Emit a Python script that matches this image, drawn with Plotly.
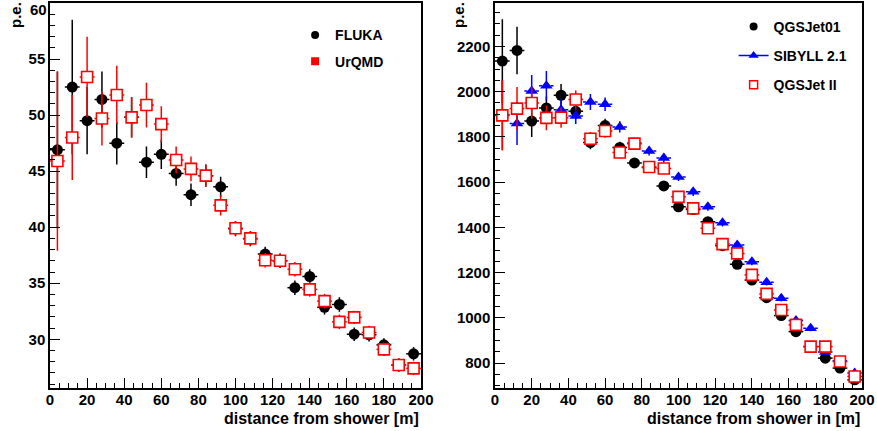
import plotly.graph_objects as go

# ---------------- data ----------------
x_bins = [4, 12, 20, 28, 36, 44, 52, 60, 68, 76, 84, 92, 100, 108, 116, 124,
          132, 140, 148, 156, 164, 172, 180, 188, 196]
x_halfwidth = [4] * 25

fluka = [46.9, 52.5, 49.5, 51.4, 47.5, 49.8, 45.8, 46.5, 44.8, 42.9, 44.6, 43.6, 39.85,
         38.96, 37.6, 37.0, 34.6, 35.6, 32.85, 33.1, 30.45, 30.4, 29.5, 27.7, 28.7]
fluka_err = [7.0, 6.0, 3.0, 2.5, 1.9, 1.8, 1.4, 1.3, 1.1, 1.0, 1.0, 0.9, 0.65,
             0.65, 0.65, 0.65, 0.65, 0.65, 0.65, 0.65, 0.6, 0.6, 0.6, 0.6, 0.6]

urqmd = [45.9, 48.0, 53.4, 49.7, 51.8, 49.8, 50.9, 49.2, 46.0, 45.2, 44.6, 41.95, 39.9,
         39.0, 37.05, 37.0, 36.25, 34.45, 33.4, 31.55, 31.95, 30.6, 29.1, 27.7, 27.4]
urqmd_err = [8.0, 3.8, 3.6, 2.4, 2.6, 1.8, 2.0, 1.6, 1.2, 1.1, 1.0, 0.9, 0.65,
             0.65, 0.65, 0.65, 0.65, 0.65, 0.65, 0.65, 0.6, 0.6, 0.6, 0.6, 0.6]

qgsjet01 = [2135, 2182, 1870, 1928, 1984, 1913, 1775, 1850, 1753, 1685, 1665, 1583, 1491,
            1479, 1425, 1319, 1237, 1167, 1089, 1010, 939, 873, 822, 778, 726]
qgsjet01_err = [185, 105, 70, 50, 50, 35, 30, 30, 25, 22, 20, 20, 18,
                18, 17, 16, 15, 15, 14, 14, 13, 13, 12, 12, 12]

sibyll = [1898, 1859, 2003, 2026, 1920, 1892, 1954, 1944, 1844, 1773, 1738, 1707, 1623,
          1557, 1491, 1420, 1322, 1248, 1157, 1087, 988, 954, 849, 810, 756]
sibyll_err = [155, 95, 70, 65, 50, 35, 35, 30, 25, 22, 20, 20, 18,
              18, 17, 16, 15, 15, 14, 14, 13, 13, 12, 12, 12]

qgsjet2 = [1895, 1925, 1950, 1884, 1885, 1965, 1792, 1826, 1731, 1770, 1667, 1660, 1535,
           1484, 1396, 1326, 1285, 1190, 1106, 1035, 969, 873, 873, 807, 741]
qgsjet2_err = [155, 95, 70, 55, 45, 40, 30, 30, 25, 22, 20, 20, 18,
               18, 17, 16, 15, 15, 14, 14, 13, 13, 12, 12, 12]

left_yrange = [25.65, 60.05]
right_yrange = [690, 2394]
x_range = [0, 200]
left_top_label = 60

# ---------------- figure ----------------
FONT = "Liberation Sans"
fig = go.Figure()


def series(x, y, ey, color, symbol, size, xa, ya, name, open_marker=False, xerr=True):
    marker = dict(color=color, symbol=symbol, size=size)
    if open_marker:
        marker = dict(color="white", symbol=symbol, size=size,
                      line=dict(color=color, width=1.6))
    tr = go.Scatter(
        x=x, y=y, mode="markers", name=name, showlegend=False,
        marker=marker, xaxis=xa, yaxis=ya, cliponaxis=False,
        error_y=dict(type="data", array=ey, color=color, thickness=1.5, width=0),
    )
    if xerr:
        tr.error_x = dict(type="data", array=x_halfwidth, color=color, thickness=1.5, width=0)
    return tr


fig.add_trace(series(x_bins, fluka, fluka_err, "black", "circle", 11, "x", "y", "FLUKA"))
fig.add_trace(series(x_bins, urqmd, urqmd_err, "red", "square", 11, "x", "y", "UrQMD", True))

fig.add_trace(series(x_bins, qgsjet01, qgsjet01_err, "black", "circle", 11, "x2", "y2", "QGSJet01"))

# dashed horizontal bin-width bars for SIBYLL
sx, sy = [], []
for xc, hw, yv in zip(x_bins, x_halfwidth, sibyll):
    sx += [xc - hw, xc + hw, None]
    sy += [yv, yv, None]
fig.add_trace(go.Scatter(x=sx, y=sy, mode="lines", showlegend=False, hoverinfo="skip",
                         line=dict(color="blue", width=1.5, dash="3px,8.5px"),
                         xaxis="x2", yaxis="y2"))
fig.add_trace(series(x_bins, sibyll, sibyll_err, "blue", "triangle-up", 11, "x2", "y2",
                     "SIBYLL 2.1", xerr=False))
fig.add_trace(series(x_bins, qgsjet2, qgsjet2_err, "red", "square", 11, "x2", "y2", "QGSJet II", True))

# legend entries
fig.add_trace(go.Scatter(x=[None], y=[None], mode="markers", name="FLUKA",
                         marker=dict(color="black", symbol="circle", size=8),
                         legend="legend", legendgroup="a", xaxis="x", yaxis="y"))
fig.add_trace(go.Scatter(x=[None], y=[None], mode="markers", name="UrQMD",
                         marker=dict(color="red", symbol="square", size=8),
                         legend="legend", legendgroup="b", xaxis="x", yaxis="y"))
fig.add_trace(go.Scatter(x=[None], y=[None], mode="markers", name="QGSJet01",
                         marker=dict(color="black", symbol="circle", size=8),
                         legend="legend2", legendgroup="c", xaxis="x2", yaxis="y2"))
fig.add_trace(go.Scatter(x=[None], y=[None], mode="lines+markers", name="SIBYLL 2.1",
                         marker=dict(color="blue", symbol="triangle-up", size=9),
                         line=dict(color="blue", width=1.5),
                         legend="legend2", legendgroup="d", xaxis="x2", yaxis="y2"))
fig.add_trace(go.Scatter(x=[None], y=[None], mode="markers", name="QGSJet II",
                         marker=dict(color="white", symbol="square", size=8,
                                     line=dict(color="red", width=1.5)),
                         legend="legend2", legendgroup="e", xaxis="x2", yaxis="y2"))

tickfont = dict(family=FONT, size=15, color="black", weight="bold")
common_x = dict(range=x_range, dtick=20, ticks="inside", ticklen=10, tickwidth=1.2,
                tickcolor="black", showline=True, linecolor="black", linewidth=1.5,
                mirror=True, showgrid=False, zeroline=False, tickfont=tickfont,
                automargin=False, ticklabelstandoff=-3,
                minor=dict(dtick=5, ticks="inside", ticklen=5, tickcolor="black", tickwidth=1),
                fixedrange=True)

ytop = 1 - 2.5 / 431
ybot = 1 - 388 / 431
ann_font = dict(family=FONT, size=16, color="black", weight="bold")

fig.update_layout(
    width=877, height=431,
    margin=dict(l=0, r=0, t=0, b=0),
    paper_bgcolor="white", plot_bgcolor="white",
    xaxis=dict(domain=[50 / 877, 421 / 877], anchor="y", **common_x),
    yaxis=dict(domain=[ybot, ytop], anchor="x", range=left_yrange, dtick=5,
               ticks="inside", ticklen=10, tickwidth=1.2, tickcolor="black",
               showline=True, linecolor="black", linewidth=1.5, mirror=True,
               showgrid=False, zeroline=False, tickfont=tickfont, automargin=False,
               minor=dict(dtick=1, ticks="inside", ticklen=5, tickcolor="black", tickwidth=1)),
    xaxis2=dict(domain=[495 / 877, 862 / 877], anchor="y2", **common_x),
    yaxis2=dict(domain=[ybot, ytop], anchor="x2", range=right_yrange, dtick=200,
                ticks="inside", ticklen=10, tickwidth=1.2, tickcolor="black",
                showline=True, linecolor="black", linewidth=1.5, mirror=True,
                showgrid=False, zeroline=False, tickfont=tickfont, automargin=False,
                minor=dict(dtick=50, ticks="inside", ticklen=5, tickcolor="black", tickwidth=1)),
    legend=dict(x=0.3365, y=0.955, xanchor="left", yanchor="top", bgcolor="rgba(0,0,0,0)",
                font=dict(family=FONT, size=14, color="black", weight="bold"),
                tracegroupgap=5, traceorder="grouped", itemwidth=30),
    legend2=dict(x=0.8365, y=0.975, xanchor="left", yanchor="top", bgcolor="rgba(0,0,0,0)",
                 font=dict(family=FONT, size=14, color="black", weight="bold"),
                 tracegroupgap=8, traceorder="grouped", itemwidth=30),
    annotations=[
        dict(text="distance from shower [m]", x=421 / 877, y=0.005, xref="paper", yref="paper",
             xanchor="right", yanchor="bottom", showarrow=False, font=ann_font),
        dict(text="distance from shower in [m]", x=862 / 877, y=0.005, xref="paper", yref="paper",
             xanchor="right", yanchor="bottom", showarrow=False, font=ann_font),
        dict(text="p.e.", x=15 / 877, y=1, xref="paper", yref="paper", textangle=-90,
             xanchor="center", yanchor="top", showarrow=False,
             font=dict(family=FONT, size=15, color="black", weight="bold")),
        dict(text="p.e.", x=458 / 877, y=1, xref="paper", yref="paper", textangle=-90,
             xanchor="center", yanchor="top", showarrow=False,
             font=dict(family=FONT, size=15, color="black", weight="bold")),
        dict(text=str(left_top_label), x=48 / 877, y=1, xref="paper", yref="paper",
             xanchor="right", yanchor="top", showarrow=False, borderpad=0,
             font=dict(family=FONT, size=15, color="black", weight="bold")),
    ],
)

fig.write_html("out.html", config={"displayModeBar": False},
               post_script="document.body.style.margin='0';document.body.style.padding='0';")
